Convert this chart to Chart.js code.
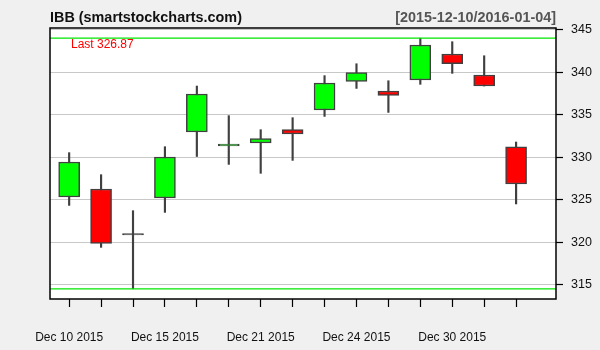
<!DOCTYPE html>
<html>
<head>
<meta charset="utf-8">
<script src="https://cdn.jsdelivr.net/npm/chart.js@4.4.1/dist/chart.umd.min.js"></script>
<style>
    html, body { margin: 0; padding: 0; background: #f0f0f0; }
    #wrap { width: 600px; height: 350px; position: relative; }
</style>
</head>
<body>
<div id="wrap"><canvas id="chart" width="600" height="350"></canvas></div>
<script>
(function () {
    'use strict';

    var symbol = 'IBB (smartstockcharts.com)';
    var period = '[2015-12-10/2016-01-04]';

    var dates = ['2015-12-10', '2015-12-11', '2015-12-14', '2015-12-15', '2015-12-16',
        '2015-12-17', '2015-12-18', '2015-12-21', '2015-12-22', '2015-12-23',
        '2015-12-24', '2015-12-28', '2015-12-29', '2015-12-30', '2015-12-31'];
    var tickLabels = ['Dec 10 2015', '', '', 'Dec 15 2015', '', '', 'Dec 21 2015', '', '',
        'Dec 24 2015', '', '', 'Dec 30 2015', '', ''];

    var opens = [325.34, 326.28, 320.90, 325.22, 332.98, 331.33, 331.68, 333.25, 335.56,
        338.93, 337.80, 339.09, 342.14, 339.68, 331.22];
    var closes = [329.45, 319.89, 320.87, 330.04, 337.44, 331.57, 332.19, 332.74, 338.74,
        339.95, 337.28, 343.20, 341.00, 338.38, 326.87];
    var highs = [330.55, 327.96, 323.73, 331.25, 338.38, 334.90, 333.25, 334.66, 339.60,
        341.00, 339.00, 344.00, 343.59, 341.94, 331.80];
    var lows = [324.35, 319.42, 314.55, 323.53, 330.10, 329.17, 328.12, 329.64, 334.81,
        338.10, 335.28, 338.58, 339.87, 338.38, 324.52];

    var yTicks = [315, 320, 325, 330, 335, 340, 345];

    var UP = '#00ff00';
    var DOWN = '#ff0000';
    var EDGE = '#404040';

    function bodyColor(i) {
        var diff = closes[i] - opens[i];
        if (Math.abs(diff) < 0.05) return EDGE;
        return diff > 0 ? UP : DOWN;
    }

    var bodies = dates.map(function (d, i) {
        return { x: i, y: [opens[i], closes[i]] };
    });
    var wicks = dates.map(function (d, i) {
        return { x: i, y: [lows[i], highs[i]] };
    });

    var framePlugin = {
        id: 'frame',
        beforeDraw: function (chart) {
            var ctx = chart.ctx;
            var a = chart.chartArea;
            ctx.save();
            ctx.fillStyle = '#f0f0f0';
            ctx.fillRect(0, 0, chart.width, chart.height);
            ctx.fillStyle = '#ffffff';
            ctx.fillRect(a.left, a.top, a.right - a.left, a.bottom - a.top);
            ctx.restore();
        },
        afterDatasetsDraw: function (chart) {
            var ctx = chart.ctx;
            var a = chart.chartArea;
            var y = chart.scales.y;
            var hi = Math.max.apply(null, highs);
            var lo = Math.min.apply(null, lows);
            ctx.save();
            ctx.strokeStyle = '#00e600';
            ctx.lineWidth = 1.2;
            [hi, lo].forEach(function (v) {
                var py = y.getPixelForValue(v);
                ctx.beginPath();
                ctx.moveTo(a.left, py);
                ctx.lineTo(a.right, py);
                ctx.stroke();
            });
            ctx.fillStyle = '#ff0000';
            ctx.font = '12px "Liberation Sans", Arial, sans-serif';
            ctx.textBaseline = 'alphabetic';
            ctx.textAlign = 'left';
            ctx.fillText('Last ' + closes[closes.length - 1].toFixed(2), a.left + 21, 47.5);
            ctx.restore();
        },
        afterDraw: function (chart) {
            var ctx = chart.ctx;
            var a = chart.chartArea;
            ctx.save();
            ctx.strokeStyle = '#000000';
            ctx.lineWidth = 1.5;
            ctx.strokeRect(a.left, a.top, a.right - a.left, a.bottom - a.top);
            ctx.font = 'bold 14.4px "Liberation Sans", Arial, sans-serif';
            ctx.textBaseline = 'alphabetic';
            ctx.textAlign = 'left';
            ctx.fillStyle = '#111111';
            ctx.fillText(symbol, a.left, 22);
            ctx.textAlign = 'right';
            ctx.fillStyle = '#555555';
            ctx.fillText(period, a.right, 22);
            ctx.restore();
        },
    };

    var ctx = document.getElementById('chart').getContext('2d');
    new Chart(ctx, {
        type: 'bar',
        data: {
            datasets: [
                {
                    label: 'body',
                    data: bodies,
                    backgroundColor: dates.map(function (d, i) { return bodyColor(i); }),
                    borderColor: EDGE,
                    borderWidth: 1.5,
                    borderSkipped: false,
                    barThickness: 21,
                    minBarLength: 1.5,
                    grouped: false,
                    order: 0,
                },
                {
                    label: 'wick',
                    data: wicks,
                    backgroundColor: EDGE,
                    borderWidth: 0,
                    barThickness: 1.5,
                    grouped: false,
                    order: 1,
                },
            ],
        },
        options: {
            responsive: false,
            animation: false,
            layout: { padding: { left: 50, top: 28, right: 0, bottom: 0 } },
            plugins: {
                legend: { display: false },
                tooltip: { enabled: false },
            },
            scales: {
                x: {
                    type: 'linear',
                    offset: false,
                    min: -0.6,
                    max: 15.25,
                    afterBuildTicks: function (scale) {
                        scale.ticks = dates.map(function (d, i) { return { value: i }; });
                    },
                    afterFit: function (scale) {
                        scale.height = 51;
                    },
                    ticks: {
                        autoSkip: false,
                        maxRotation: 0,
                        padding: 23,
                        color: '#111111',
                        font: { family: '"Liberation Sans", Arial, sans-serif', size: 12 },
                        callback: function (value, index) {
                            return tickLabels[index];
                        },
                    },
                    grid: {
                        offset: false,
                        drawOnChartArea: false,
                        tickLength: 8,
                        tickColor: '#000000',
                        tickWidth: 1.2,
                    },
                    border: { display: false },
                },
                y: {
                    position: 'right',
                    min: 313.35,
                    max: 345.2,
                    afterBuildTicks: function (scale) {
                        scale.ticks = yTicks.map(function (v) { return { value: v }; });
                    },
                    afterFit: function (scale) {
                        scale.width = 44;
                    },
                    ticks: {
                        autoSkip: false,
                        padding: 8,
                        color: '#111111',
                        font: { family: '"Liberation Sans", Arial, sans-serif', size: 12.5 },
                    },
                    grid: {
                        color: '#c8c8c8',
                        lineWidth: 1,
                        tickLength: 7,
                        tickColor: '#000000',
                        tickWidth: 1.2,
                    },
                    border: { display: false },
                },
            },
        },
        plugins: [framePlugin],
    });
})();
</script>
</body>
</html>
